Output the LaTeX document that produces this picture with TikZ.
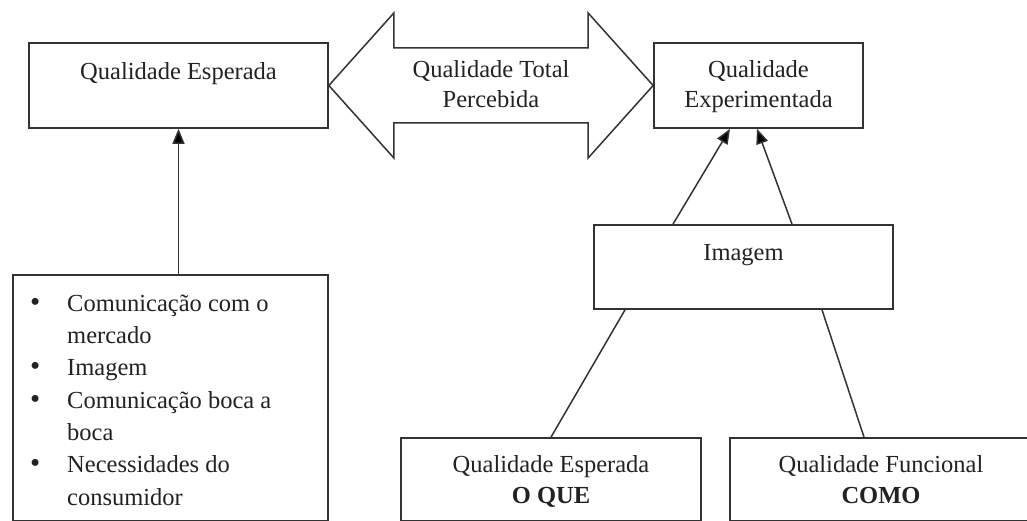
\documentclass[tikz,border=0pt]{standalone}
\usepackage{fontspec}
\setmainfont{Liberation Serif}
\usetikzlibrary{arrows.meta,calc}
\definecolor{linecol}{HTML}{333333}
\definecolor{txtcol}{HTML}{222222}
\newcommand{\bulitem}{\makebox[37pt][l]{\fontsize{29}{29}\selectfont•}}
\begin{document}
\begin{tikzpicture}[x=1pt,y=-1pt,
  box/.style={draw=linecol,line width=1.7pt,rectangle,inner sep=0pt,fill=white},
  lbl/.style={inner sep=0pt,anchor=base,align=center,text=txtcol,font=\fontsize{24.5}{30}\selectfont},
  arr/.style={draw=linecol,line width=1.5pt,-{Triangle[length=15pt,width=12pt,fill=black]}},
  conn/.style={draw=linecol,line width=1.5pt},
  bigarrow/.style={draw=linecol,line width=1.5pt,line join=miter,fill=white}]
\useasboundingbox (0,0) rectangle (1027,521);
\fill[white] (0,0) rectangle (1027,521);
% boxes
\node[box,minimum width=299pt,minimum height=85pt] (qe) at (178.5,85.5) {};
\node[box,minimum width=209pt,minimum height=85pt] (qx) at (758.5,85.5) {};
\node[box,minimum width=299pt,minimum height=84pt] (im) at (743.5,267) {};
\node[box,minimum width=315pt,minimum height=246pt] (bl) at (170.5,398) {};
\node[box,minimum width=300pt,minimum height=83pt] (oq) at (551,479.5) {};
\node[box,minimum width=302pt,minimum height=83pt] (cm) at (881,479.5) {};
% double arrow
\draw[bigarrow] (qe.east) -- ++(65,-72.5) -- ++(0,35) -- ($(qx.west)+(-65,-37.5)$) -- ++(0,-35) -- (qx.west)
  -- ++(-65,72.5) -- ++(0,-35) -- ($(qe.east)+(65,37.5)$) -- ++(0,35) -- cycle;
% texts (multi-line nodes: base = last line)
\node[lbl] (qet) at (178.5,80) {Qualidade Esperada};
\node[lbl] (tqt) at (491,108) {Qualidade Total\\Percebida};
\node[lbl] (qxt) at (758.5,108) {Qualidade\\Experimentada};
\node[lbl] (imt) at (743.5,260) {Imagem};
\node[lbl,font=\fontsize{24.5}{31}\selectfont] (oqt) at (551,503) {Qualidade Esperada\\\textbf{O QUE}};
\node[lbl,font=\fontsize{24.5}{31}\selectfont] (cmt) at (881,503) {Qualidade Funcional\\\textbf{COMO}};
\node[inner sep=0pt,anchor=base west,align=left,text=txtcol,font=\fontsize{24.5}{32.3}\selectfont] (blt) at (30,505)
  {\bulitem Comunicação com o\\
   \hspace*{37pt}mercado\\
   \bulitem Imagem\\
   \bulitem Comunicação boca a\\
   \hspace*{37pt}boca\\
   \bulitem Necessidades do\\
   \hspace*{37pt}consumidor};
% connectors
\draw[arr] (bl.north -| qe.south) -- (qe.south);
\draw[arr] ($(im.north)+(-70.5,0)$) -- ($(qx.south)+(-28.5,0)$);
\draw[arr] ($(im.north)+(48.5,0)$) -- ($(qx.south)+(-1.5,0)$);
\draw[conn] ($(im.south)+(-118.5,0)$) -- (oq.north);
\draw[conn] ($(im.south)+(78.5,0)$) -- ($(cm.north)+(-17,0)$);
\end{tikzpicture}
\end{document}
